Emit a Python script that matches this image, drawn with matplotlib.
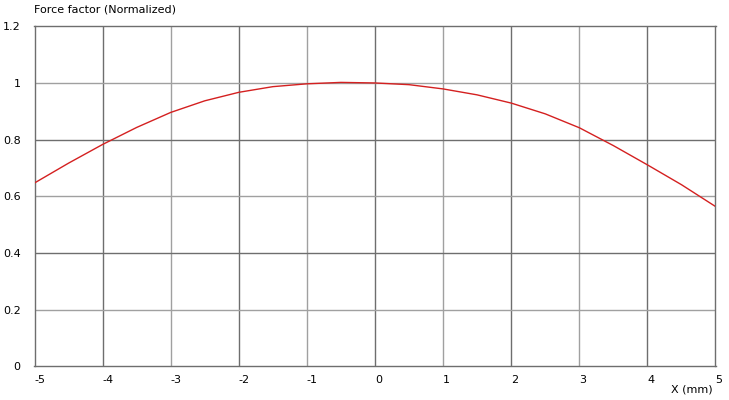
import matplotlib.pyplot as plt

# valeurs
x_mm = [-5, -4.5, -4, -3.5, -3, -2.5, -2, -1.5, -1, -0.5, 0,
        0.5, 1, 1.5, 2, 2.5, 3, 3.5, 4, 4.5, 5]
force = [0.647, 0.717, 0.783, 0.843, 0.896, 0.937, 0.967, 0.987, 0.997, 1.002, 1.0,
         0.994, 0.979, 0.958, 0.929, 0.891, 0.842, 0.779, 0.711, 0.641, 0.564]

x_ticks = [-5, -4, -3, -2, -1, 0, 1, 2, 3, 4, 5]
y_ticks = [0, 0.2, 0.4, 0.6, 0.8, 1, 1.2]
y_tick_labels = ['0', '0.2', '0.4', '0.6', '0.8', '1', '1.2']

plt.rcParams['font.family'] = ['DejaVu Sans']

W, H = 729, 400
fig = plt.figure(figsize=(W / 100, H / 100), dpi=100)
ax = fig.add_axes([34.5 / W, (H - 366.3) / H, 681 / W, 340 / H])

ax.set_xlim(-5, 5)
ax.set_ylim(0, 1.2)

# grille : alternance gris foncé / gris clair
dark, light = '#6e6e6e', '#a0a0a0'
for i, xv in enumerate(x_ticks[1:-1]):
    ax.axvline(xv, color=dark if i % 2 == 0 else light, lw=1, zorder=1)
for i, yv in enumerate(y_ticks[1:-1]):
    ax.axhline(yv, color=light if i % 2 == 0 else dark, lw=1, zorder=1)

ax.plot(x_mm, force, color='#d42020', lw=1, zorder=3)

for s in ax.spines.values():
    s.set_color('#6e6e6e')
    s.set_linewidth(1)

ax.set_xticks(x_ticks)
ax.set_xticklabels([str(v) for v in x_ticks], ha='left')
ax.set_yticks(y_ticks)
ax.set_yticklabels(y_tick_labels)
ax.tick_params(axis='both', length=0, labelsize=8, colors='black')
ax.tick_params(axis='x', pad=6)
ax.tick_params(axis='y', pad=10)

fig.text(34 / W, 1 - 9 / H, 'Force factor (Normalized)', fontsize=8,
         ha='left', va='center')
fig.text(713 / W, 1 - 390 / H, 'X (mm)', fontsize=8, ha='right', va='center')

fig.savefig('out.png', dpi=100)
